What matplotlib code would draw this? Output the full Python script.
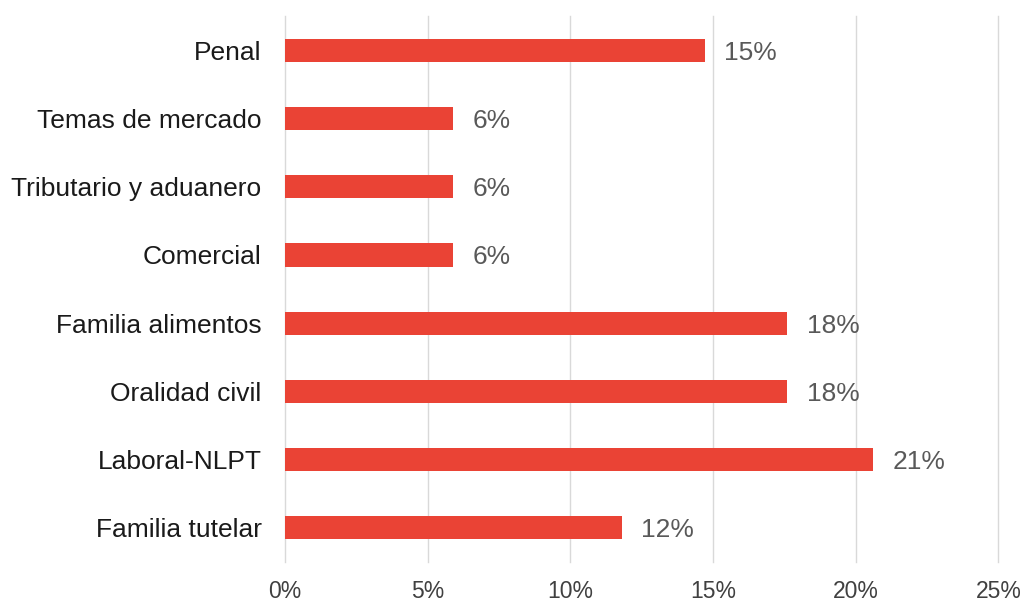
import matplotlib.pyplot as plt
from matplotlib.ticker import FuncFormatter

plt.rcParams['font.family'] = ['Liberation Sans', 'DejaVu Sans']

# data, top to bottom as in the chart
categorias = ["Penal", "Temas de mercado", "Tributario y aduanero", "Comercial",
              "Familia alimentos", "Oralidad civil", "Laboral-NLPT", "Familia tutelar"]
valores = [14.7, 5.9, 5.9, 5.9, 17.6, 17.6, 20.6, 11.8]
etiquetas = ["15%", "6%", "6%", "6%", "18%", "18%", "21%", "12%"]

fig = plt.figure(figsize=(10.22, 6.01), dpi=100)
ax = fig.add_axes([0.279, 0.065, 0.698, 0.908])

pos = list(range(len(categorias)))
ax.barh(pos, valores, height=0.34, color='#EA4335', zorder=3)

for p, v, t in zip(pos, valores, etiquetas):
    ax.annotate(t, (v, p), xytext=(14, 0), textcoords='offset points',
                va='center_baseline', ha='left', fontsize=19, color='#595959')

ax.set_yticks(pos)
ax.set_yticklabels(categorias, fontsize=19, color='#1a1a1a')
ax.set_ylim(len(categorias) - 0.5, -0.5)
ax.set_xlim(0, 25)
ax.set_xticks([0, 5, 10, 15, 20, 25])
ax.xaxis.set_major_formatter(FuncFormatter(lambda x, _: f"{x:.0f}%"))
ax.tick_params(axis='x', labelsize=16.5, colors='#404040', length=0, pad=13)
ax.tick_params(axis='y', length=0, pad=17)

ax.grid(axis='x', color='#d9d9d9', linewidth=1, zorder=0)
for gl in ax.get_xgridlines():
    gl.set_clip_on(False)
for s in ax.spines.values():
    s.set_visible(False)

fig.savefig('out.png', dpi=100)
